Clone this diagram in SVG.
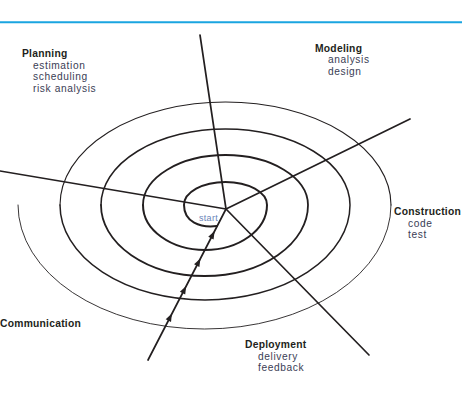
<svg xmlns="http://www.w3.org/2000/svg" width="474" height="402" viewBox="0 0 474 402">
<defs>
<style>
.h{font-family:"Liberation Sans",Arial,sans-serif;font-weight:bold;font-size:10.3px;letter-spacing:0.25px;fill:#231f20}
.s{font-family:"Liberation Sans",Arial,sans-serif;font-size:10.2px;letter-spacing:0.6px;fill:#3a3d55}
.st{font-family:"Liberation Sans",Arial,sans-serif;font-size:9px;letter-spacing:0.3px;fill:#6a84b8}
.ax{stroke:#231f20;stroke-width:1.7;fill:none;stroke-linecap:round}
.sp{stroke:#231f20;fill:none;stroke-linecap:round}
</style>
<path id="ah" d="M0,0 L-8,-3 L-8,3 Z" fill="#231f20"/>
</defs>
<rect width="474" height="402" fill="#fff"/>
<line x1="0" y1="22.3" x2="462" y2="22.3" stroke="#1aa5e0" stroke-width="2"/>
<g id="connectors">
<line class="ax" x1="226" y1="209" x2="200" y2="35"/>
<line class="ax" x1="226" y1="209" x2="0" y2="171"/>
<line class="ax" x1="226" y1="209" x2="410" y2="119"/>
<line class="ax" x1="226" y1="209" x2="369" y2="355"/>
<line class="ax" x1="226" y1="209" x2="148" y2="360"/>
<path class="sp" stroke-width="2" d="M217 226 C200 228 184 222 184 205 A41.5 23 0 0 1 267 205 A62 45 0 0 1 143 205"/>
<path class="sp" stroke-width="1.8" d="M143 205 A82.5 50 0 0 1 308 205 A103.5 71 0 0 1 101 205"/>
<path class="sp" stroke-width="1.5" d="M101 205 A124.5 76 0 0 1 350 205 A145 95 0 0 1 60 205"/>
<path class="sp" stroke-width="1.1" d="M60 205 A165.5 103 0 0 1 391 205"/>
<path class="sp" stroke-width="0.9" stroke="#444" d="M391 205 A186.5 124 0 0 1 18 205"/>
<use href="#ah" transform="translate(214.6,231) rotate(-62.7)"/>
<use href="#ah" transform="translate(200.4,258.5) rotate(-62.7)"/>
<use href="#ah" transform="translate(186.2,286) rotate(-62.7)"/>
<use href="#ah" transform="translate(172,313.5) rotate(-62.7)"/>
</g>
<g id="start"><text class="st" x="199" y="221">start</text></g>
<g id="planning">
<text class="h" x="22" y="57">Planning</text>
<text class="s" x="33" y="68.7">estimation</text>
<text class="s" x="33" y="80.2">scheduling</text>
<text class="s" x="33" y="91.7">risk analysis</text>
</g>
<g id="modeling">
<text class="h" x="315" y="51.8">Modeling</text>
<text class="s" x="328" y="63.4">analysis</text>
<text class="s" x="328" y="74.9">design</text>
</g>
<g id="construction">
<text class="h" x="394" y="215">Construction</text>
<text class="s" x="408" y="226.6">code</text>
<text class="s" x="408" y="238.1">test</text>
</g>
<g id="communication">
<text class="h" x="0" y="327">Communication</text>
</g>
<g id="deployment">
<text class="h" x="245" y="348">Deployment</text>
<text class="s" x="258" y="359.6">delivery</text>
<text class="s" x="258" y="371.1">feedback</text>
</g>
</svg>
